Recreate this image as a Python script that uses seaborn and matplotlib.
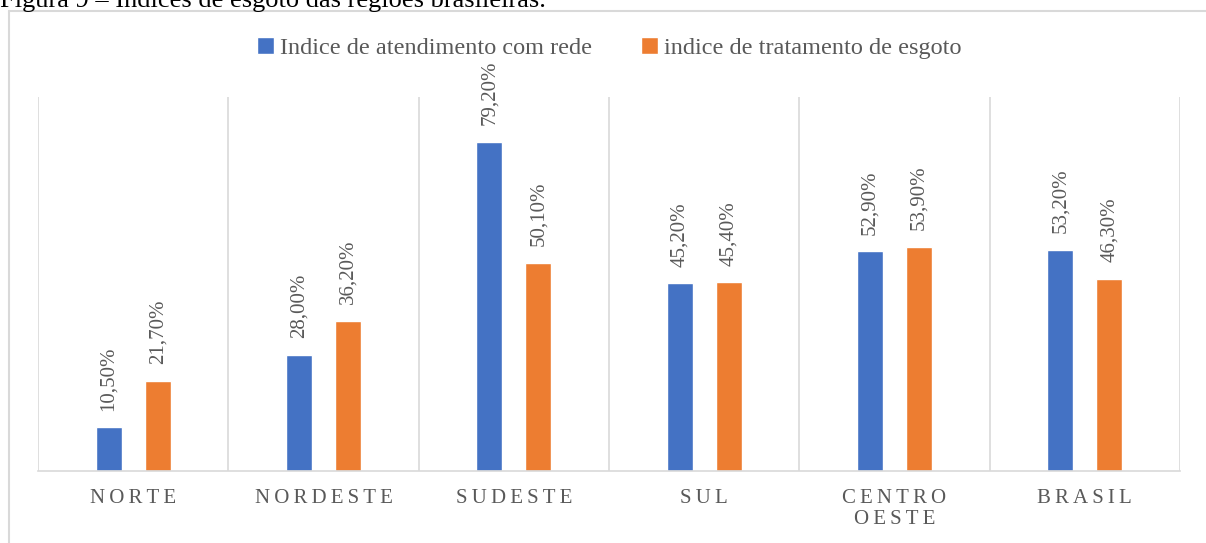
import matplotlib
matplotlib.use("Agg")
import matplotlib.pyplot as plt
import matplotlib.lines as mlines
import pandas as pd
import seaborn as sns

regioes = ["NORTE", "NORDESTE", "SUDESTE", "SUL", "CENTRO\nOESTE", "BRASIL"]
series = ["Indice de atendimento com rede", "indice de tratamento de esgoto"]
atendimento = [10.5, 28.0, 79.2, 45.2, 52.9, 53.2]
tratamento = [21.7, 36.2, 50.1, 45.4, 53.9, 46.3]
cores = ["#4472C4", "#ED7D31"]
titulo = "Figura 9 – Índices de esgoto das regiões brasileiras."

df = pd.DataFrame({
    "regiao": regioes * 2,
    "serie": [series[0]] * len(regioes) + [series[1]] * len(regioes),
    "valor": atendimento + tratamento,
})

sns.set_style("white")
plt.rcParams["font.family"] = ["Liberation Serif", "DejaVu Serif"]
cinza = "#595959"
linha = "#D9D9D9"

fig = plt.figure(figsize=(12.06, 5.43), dpi=100)
ax = fig.add_axes([38 / 1206, 1 - 471 / 543, (1180 - 38) / 1206, (471 - 97) / 543])

sns.barplot(data=df, x="regiao", y="valor", hue="serie", palette=cores,
            width=0.516, gap=0.47, ax=ax, legend=True, saturation=1)

ax.set_ylim(0, 90)
ax.set_xlim(-0.5, len(regioes) - 0.5)
ax.set_xlabel("")
ax.set_ylabel("")
ax.set_yticks([])

# rótulos com espaçamento entre letras
rotulos = ["\u2009".join(r) for r in regioes]
rotulos = [r.replace("\u2009\n\u2009", "\n") for r in rotulos]
ax.set_xticks(range(len(regioes)))
ax.set_xticklabels(rotulos, fontsize=15, color=cinza, linespacing=1.15)
ax.tick_params(axis="x", length=0, pad=13)

# linhas verticais entre categorias
ax.set_xticks([i - 0.5 for i in range(len(regioes) + 1)], minor=True)
ax.tick_params(axis="x", which="minor", length=0)
ax.grid(axis="x", which="minor", color=linha, lw=1.2)
ax.grid(axis="x", which="major", visible=False)
ax.grid(axis="y", visible=False)
for s in ["top", "left", "right"]:
    ax.spines[s].set_visible(False)
ax.spines["bottom"].set_color(linha)
ax.spines["bottom"].set_linewidth(1.2)

for cont, vals in zip(ax.containers, [atendimento, tratamento]):
    ax.bar_label(cont, labels=[f"{v:.2f}%".replace(".", ",") for v in vals],
                 rotation=90, padding=12, fontsize=15, color=cinza)

handles, labels = ax.get_legend_handles_labels()
leg = ax.legend(handles, labels, loc="center", bbox_to_anchor=(0.5, (471 - 48) / 374),
                ncol=2, frameon=False, fontsize=17.5, handlelength=0.7,
                handleheight=0.7, handletextpad=0.25, columnspacing=2.0)
for t in leg.get_texts():
    t.set_color(cinza)

# moldura do gráfico (só topo e esquerda aparecem no recorte)
x0 = 9 / 1206
y0 = 1 - 11 / 543
fig.add_artist(mlines.Line2D([x0, 1], [y0, y0], transform=fig.transFigure,
                             color=linha, lw=1.5))
fig.add_artist(mlines.Line2D([x0, x0], [0, y0], transform=fig.transFigure,
                             color=linha, lw=1.5))
fig.text(0, 1 - 7 / 543, titulo, fontsize=19, va="baseline", ha="left", color="black")

fig.savefig("out.png", dpi=100)
